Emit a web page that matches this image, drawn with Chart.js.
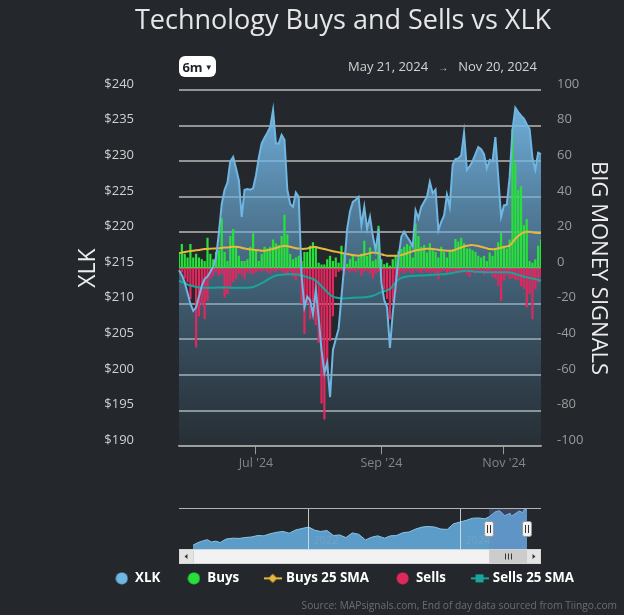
<!DOCTYPE html>
<html><head><meta charset="utf-8">
<script src="https://cdn.jsdelivr.net/npm/chart.js@4.4.1/dist/chart.umd.min.js"></script>
<style>
html,body{margin:0;padding:0;background:#24282c;}
#wrap{position:relative;width:624px;height:615px;overflow:hidden;background:#24282c;font-family:'Open Sans',sans-serif;}
#main{position:absolute;left:0;top:0;}
#nav{position:absolute;left:179px;top:504px;}
#title{position:absolute;left:62px;right:0;top:1px;text-align:center;font-size:27px;color:#e6e6e6;line-height:36px;}
#btn{position:absolute;left:179px;top:56px;width:37px;height:21px;border-radius:6px;background:#fff;color:#1f2226;font-size:13px;font-weight:700;line-height:21px;text-align:center;}
#btn span{font-size:8px;vertical-align:2px;margin-left:2px;}
#range{position:absolute;right:87px;top:57px;font-size:13px;color:#d2d2d2;line-height:18px;white-space:nowrap;}
#range span{font-size:10px;margin:0 10px;}
#source{position:absolute;right:7px;top:598px;font-size:10.2px;color:#6a6e72;white-space:nowrap;}
</style></head><body><div id="wrap">
<canvas id="main" width="624" height="615"></canvas>
<canvas id="nav" width="362" height="63"></canvas>
<div id="title">Technology Buys and Sells vs XLK</div>
<div id="btn">6m<span>&#9660;</span></div>
<div id="range">May 21, 2024<span>&#8594;</span>Nov 20, 2024</div>
<div id="source">Source: MAPsignals.com, End of day data sourced from Tiingo.com</div>
</div>
<script>
// ---------- DATA ----------
const dates = [
'2024-05-21','2024-05-22','2024-05-23','2024-05-24','2024-05-28','2024-05-29','2024-05-30','2024-05-31',
'2024-06-03','2024-06-04','2024-06-05','2024-06-06','2024-06-07','2024-06-10','2024-06-11','2024-06-12','2024-06-13','2024-06-14','2024-06-17','2024-06-18','2024-06-20','2024-06-21','2024-06-24','2024-06-25','2024-06-26','2024-06-27','2024-06-28',
'2024-07-01','2024-07-02','2024-07-03','2024-07-05','2024-07-08','2024-07-09','2024-07-10','2024-07-11','2024-07-12','2024-07-15','2024-07-16','2024-07-17','2024-07-18','2024-07-19','2024-07-22','2024-07-23','2024-07-24','2024-07-25','2024-07-26','2024-07-29','2024-07-30','2024-07-31',
'2024-08-01','2024-08-02','2024-08-05','2024-08-06','2024-08-07','2024-08-08','2024-08-09','2024-08-12','2024-08-13','2024-08-14','2024-08-15','2024-08-16','2024-08-19','2024-08-20','2024-08-21','2024-08-22','2024-08-23','2024-08-26','2024-08-27','2024-08-28','2024-08-29','2024-08-30',
'2024-09-03','2024-09-04','2024-09-05','2024-09-06','2024-09-09','2024-09-10','2024-09-11','2024-09-12','2024-09-13','2024-09-16','2024-09-17','2024-09-18','2024-09-19','2024-09-20','2024-09-23','2024-09-24','2024-09-25','2024-09-26','2024-09-27','2024-09-30',
'2024-10-01','2024-10-02','2024-10-03','2024-10-04','2024-10-07','2024-10-08','2024-10-09','2024-10-10','2024-10-11','2024-10-14','2024-10-15','2024-10-16','2024-10-17','2024-10-18','2024-10-21','2024-10-22','2024-10-23','2024-10-24','2024-10-25','2024-10-28','2024-10-29','2024-10-30','2024-10-31',
'2024-11-01','2024-11-04','2024-11-05','2024-11-06','2024-11-07','2024-11-08','2024-11-11','2024-11-12','2024-11-13','2024-11-14','2024-11-15','2024-11-18','2024-11-19','2024-11-20'];

const xlk = [
214.7,214.0,213.0,211.5,210.0,209.0,209.5,211.0,212.5,213.5,213.8,214.5,215.2,216.5,220.0,224.0,226.0,227.0,230.0,230.6,
229.0,227.3,222.2,226.0,226.1,226.0,226.2,228.0,230.5,232.5,233.3,234.0,234.8,237.2,232.5,232.5,233.7,233.0,226.0,224.0,
223.6,225.6,225.0,214.0,209.5,211.0,210.5,208.5,212.0,208.0,203.5,200.3,201.7,196.9,203.5,205.0,206.5,211.0,215.5,220.5,
223.0,224.3,224.6,225.0,221.0,223.6,220.5,222.2,219.5,217.5,220.5,213.0,210.5,209.5,203.8,208.7,212.5,216.5,219.4,220.1,
219.4,218.8,218.0,223.1,222.0,223.6,224.3,225.0,227.1,225.5,226.0,220.3,221.5,222.4,225.3,223.6,229.5,230.3,230.4,230.8,
234.0,228.8,229.3,230.0,231.0,232.0,231.7,231.0,229.0,230.2,230.0,233.4,227.8,222.2,223.8,223.9,227.8,234.4,237.5,236.9,
236.4,236.0,235.2,234.5,230.5,228.8,231.2,231.0];

const buys = [
8,13.5,8,6,13.5,6,8,6,5,4,17,8,5,9,10,28,9,4,18,22,
12,7,4,4,5,12,19.5,10,4,8,12,11,12,16,14,13,18,30,19,8,
5,6,7,4,9,9,12.5,14.5,12,3,2,2,5,7,4,6,3,12.5,8,2.5,
5,7,4,6,8,15.4,7,11.6,4,5,23.8,5,2.2,3,1.3,5,7,9.5,10.7,12,
13.5,12.5,6,25,18,12,13,8.8,14,10,9,6,12,9,6,10,9.7,16.3,15,17,
14,11,11,10,9,7,6,7,4,8.8,7,11,14.5,20,12.5,11,16,78,59,44,
46,24,27.5,4,3,5,12.5,16];

const buysSma = [
8.4,8.7,9.0,9.3,9.6,9.8,10.0,10.2,10.5,10.7,10.8,10.9,11.0,11.0,11.1,11.3,11.5,11.6,11.8,12.0,
12.0,11.8,11.4,11.0,10.7,10.5,10.3,10.1,10.0,9.8,9.8,10.0,10.4,10.8,11.3,11.8,12.2,12.5,12.3,12.0,
11.6,11.2,11.0,10.8,10.8,11.0,11.4,11.8,11.8,11.4,11.0,10.7,10.3,9.9,9.5,9.2,8.9,8.5,8.2,7.9,
7.6,7.3,7.1,7.0,7.2,7.6,8.0,8.4,8.8,8.6,8.3,7.8,7.3,7.0,6.9,6.9,6.9,7.0,7.3,7.8,
8.4,9.0,9.5,9.9,10.2,10.5,10.7,10.8,10.8,10.7,10.5,10.3,10.1,9.9,9.8,9.7,9.9,10.4,11.0,11.6,
12.1,12.5,12.8,12.9,12.7,12.4,12.0,11.6,11.1,10.7,10.6,10.7,11.0,11.4,11.8,12.2,12.6,14.5,16.5,18.0,
19.2,20.0,20.4,20.4,20.1,19.8,19.7,19.7];

const sells = [
-3,-2.5,-6,-8,-17.4,-10,-44.6,-27,-21,-28.7,-18.4,-6,-4.3,-2.4,-4.3,-3.4,-16.5,-14.6,-11.8,-8,
-6.2,-3,-4,-6.2,-2,-3,-3.5,-2.5,-1.5,-2,-1,-2.5,-3,-1.5,-2.5,-1,-2,-4,-3.5,-2,
-5,-7,-4,-20,-37,-20,-28.7,-19,-32,-42,-76,-85,-58,-41,-27,-5,-2,-1.5,-3.4,-1,
-2.4,-1.5,-2.4,-1,-4.3,-2,-1.5,-3,-6,-3,-2,-8,-12,-17.4,-28.7,-19,-13.7,-5,-2,-3,
-1.5,-2,-3,-1,-2,-3,-1.5,-2,-3,-2,-3,-6.2,-2,-1.5,-3,-2.5,-1.5,-2,-3,-2,
-2.5,-3.5,-5.2,-2,-3,-2,-1.5,-4,-3,-2,-5,-6,-10,-18.4,-7,-4,-6,-5.5,-6.5,-7,
-10,-11.8,-22,-14.6,-28.7,-11.8,-8,-5];

const sellsSma = [
-7.1,-7.8,-8.5,-9.2,-9.8,-10.2,-10.6,-10.9,-11.0,-11.0,-11.0,-11.0,-11.0,-11.0,-10.9,-10.9,-10.9,-10.9,-11.0,-11.0,
-11.0,-11.0,-11.0,-11.0,-11.0,-10.9,-10.6,-10.0,-9.3,-8.5,-7.6,-6.6,-5.6,-4.8,-4.2,-3.9,-3.7,-3.6,-3.5,-3.5,
-3.5,-3.6,-3.8,-4.2,-4.6,-5.1,-5.6,-6.1,-7.0,-8.5,-10.2,-11.8,-13.5,-15.0,-16.0,-16.5,-16.8,-17.0,-17.0,-16.9,
-16.8,-16.7,-16.6,-16.5,-16.5,-16.4,-16.2,-15.9,-15.5,-15.0,-14.2,-13.5,-13.0,-12.4,-11.8,-10.0,-8.0,-6.5,-5.5,-5.0,
-4.7,-4.5,-4.4,-4.3,-4.2,-4.2,-4.1,-4.0,-3.9,-3.8,-3.7,-3.6,-3.5,-3.4,-3.2,-3.0,-2.7,-2.3,-2.0,-1.8,
-1.6,-1.5,-1.6,-1.8,-2.0,-2.1,-2.2,-2.3,-2.4,-2.4,-2.4,-2.4,-2.4,-2.4,-2.4,-2.4,-2.5,-2.8,-3.3,-3.8,
-4.3,-4.8,-5.2,-5.5,-5.8,-6.2,-6.6,-7.1];

const seriesNames = ['XLK','Buys','Buys 25 SMA','Sells','Sells 25 SMA'];
const xTickMonths = ['2024-07','2024-09','2024-11'];
const xTickLabels = ["Jul '24","Sep '24","Nov '24"];
const priceMin = 190, priceMax = 240, priceStep = 5;
const signalMin = -100, signalMax = 100, signalStep = 20;

// navigator (long history of XLK)
const navDates = ['2020-06-24','2020-07-15','2020-08-03','2020-09-01','2020-09-21','2020-10-12','2020-11-02','2020-12-01','2021-01-04','2021-02-01','2021-03-01','2021-04-01','2021-05-03','2021-06-01','2021-07-01','2021-08-02','2021-09-01','2021-10-01','2021-11-01','2021-12-01',
'2022-01-03','2022-02-01','2022-03-01','2022-04-01','2022-05-02','2022-06-01','2022-07-01','2022-08-01','2022-09-01','2022-10-03','2022-11-01','2022-12-01',
'2023-01-03','2023-02-01','2023-03-01','2023-04-03','2023-05-01','2023-06-01','2023-07-03','2023-08-01','2023-09-01','2023-10-02','2023-11-01','2023-12-01',
'2024-01-02','2024-02-01','2024-03-01','2024-04-01','2024-05-01','2024-05-21','2024-06-18','2024-07-10','2024-08-05','2024-08-30','2024-09-06','2024-10-14','2024-10-31','2024-11-08','2024-11-20'];
const navValues = [113,121,126,132,124,127,122,134,137,136,139,141,146,145,152,157,160,154,165,170,
175,164,160,163,146,148,139,155,150,131,140,145,
137,145,146,156,158,168,175,177,175,168,167,186,
192,198,205,206,203,210,226,231,214,222,212,230,224,237,233];
const navYearTicks = [2022, 2024];

// ---------- HELPERS ----------
function decYear(s){const [y,m,d]=s.split('-').map(Number);const t0=Date.UTC(y,0,1),t1=Date.UTC(y+1,0,1);return y+(Date.UTC(y,m-1,d)-t0)/(t1-t0);}
const monthOf = i => dates[i].slice(0,7);

const C_XLK='#6fb6e3', C_BUY='#27e03a', C_BSMA='#e6b93c', C_SELL='#e0285f', C_SSMA='#19a59b';

function circleIcon(color){const c=document.createElement('canvas');c.width=13;c.height=13;const g=c.getContext('2d');g.fillStyle=color;g.beginPath();g.arc(6.5,6.5,6,0,Math.PI*2);g.fill();return c;}
function lineIcon(color,marker){const c=document.createElement('canvas');c.width=18;c.height=12;const g=c.getContext('2d');g.strokeStyle=color;g.lineWidth=2;g.beginPath();g.moveTo(0,6);g.lineTo(18,6);g.stroke();g.fillStyle=color;
 if(marker==='diamond'){g.beginPath();g.moveTo(9,1.5);g.lineTo(13.5,6);g.lineTo(9,10.5);g.lineTo(4.5,6);g.closePath();g.fill();}
 else{g.fillRect(5,2,8,8);}return c;}
const legendIcons=[circleIcon(C_XLK),circleIcon(C_BUY),lineIcon(C_BSMA,'diamond'),circleIcon(C_SELL),lineIcon(C_SSMA,'square')];

Chart.defaults.font.family="'Open Sans', sans-serif";

// ---------- MAIN CHART ----------
new Chart(document.getElementById('main'),{
  type:'line',
  data:{labels:dates,datasets:[
    {type:'line',label:seriesNames[0],data:xlk,yAxisID:'y',borderColor:C_XLK,borderWidth:2,pointRadius:0,tension:0,order:0,fill:'start',
     backgroundColor:(c)=>{const {ctx,chartArea}=c.chart;if(!chartArea)return 'rgba(0,0,0,0)';
       const g=ctx.createLinearGradient(0,chartArea.top,0,chartArea.bottom);
       g.addColorStop(0,'rgba(122,192,240,0.95)');g.addColorStop(0.5,'rgba(100,162,205,0.5)');g.addColorStop(1,'rgba(90,140,175,0.07)');return g;}},
    {type:'bar',label:seriesNames[1],data:buys,yAxisID:'y2',backgroundColor:C_BUY,grouped:false,barPercentage:0.78,categoryPercentage:1,order:3},
    {type:'line',label:seriesNames[2],data:buysSma,yAxisID:'y2',borderColor:C_BSMA,borderWidth:2,pointRadius:0,tension:0.3,fill:false,order:1},
    {type:'bar',label:seriesNames[3],data:sells,yAxisID:'y2',backgroundColor:C_SELL,grouped:false,barPercentage:0.78,categoryPercentage:1,order:3},
    {type:'line',label:seriesNames[4],data:sellsSma,yAxisID:'y2',borderColor:C_SSMA,borderWidth:2,pointRadius:0,tension:0.3,fill:false,order:1}
  ]},
  options:{
    responsive:false,animation:false,events:[],
    layout:{padding:{left:65,right:0,top:90,bottom:20}},
    plugins:{
      title:{display:false},tooltip:{enabled:false},
      filler:{drawTime:'beforeDatasetsDraw'},
      legend:{position:'bottom',
        labels:{usePointStyle:true,padding:27,color:'#ffffff',font:{size:13.3,weight:'bold'},
          generateLabels:(chart)=>chart.data.datasets.map((ds,i)=>({text:ds.label,fillStyle:'rgba(0,0,0,0)',strokeStyle:'rgba(0,0,0,0)',lineWidth:0,pointStyle:legendIcons[i],hidden:false,datasetIndex:i,fontColor:'#ffffff'}))}}
    },
    scales:{
      x:{type:'category',offset:false,
        grid:{display:true,offset:false,drawOnChartArea:false,drawTicks:true,tickLength:8,color:'#9a9a9a',lineWidth:1},
        border:{display:true,color:'#a3a3a3',width:1.5},
        ticks:{autoSkip:false,maxRotation:0,color:'#858585',font:{size:12.5},padding:2,
          callback:(v)=>xTickLabels[xTickMonths.indexOf(monthOf(v))]},
        afterBuildTicks:(s)=>{s.ticks=dates.map((d,i)=>({value:i})).filter(t=>t.value>0&&monthOf(t.value)!==monthOf(t.value-1)&&xTickMonths.includes(monthOf(t.value)));},
        afterFit:(s)=>{s.height=98.5;}},
      y:{position:'left',min:priceMin,max:priceMax,
        ticks:{stepSize:priceStep,callback:(v)=>'$'+v,color:'#d0d0d0',font:{size:13},padding:45,labelOffset:-6},
        grid:{color:'rgba(180,180,180,0.78)',lineWidth:2,drawTicks:false},
        border:{display:false},
        title:{display:true,text:'XLK',color:'#ececec',font:{size:23},padding:{top:9.2,bottom:0}},
        afterFit:(s)=>{s.width=114;}},
      y2:{position:'right',min:signalMin,max:signalMax,
        ticks:{stepSize:signalStep,color:'#9b9b9b',font:{size:13},padding:16,labelOffset:-6},
        grid:{display:false,drawTicks:false},
        border:{display:false},
        title:{display:true,text:'BIG MONEY SIGNALS',color:'#ececec',font:{size:22},padding:{top:12.8,bottom:0}},
        afterFit:(s)=>{s.width=83;}}
    }
  }
});

// ---------- NAVIGATOR ----------
const rangeStart=decYear(dates[0]), rangeEnd=decYear(dates[dates.length-1]);
const navDecor={id:'navDecor',afterDraw(chart){
  const {ctx,chartArea:a,scales:{x}}=chart;const W=chart.width;
  ctx.save();
  ctx.strokeStyle='rgba(225,225,225,0.85)';ctx.lineWidth=1;
  ctx.font="11px 'Open Sans'";ctx.textBaseline='middle';ctx.fillStyle='rgba(150,170,190,0.45)';
  navYearTicks.forEach(yr=>{const px=Math.round(x.getPixelForValue(yr))+0.5;ctx.beginPath();ctx.moveTo(px,a.top);ctx.lineTo(px,a.bottom);ctx.stroke();ctx.fillText(String(yr),px+5,a.bottom-8);});
  const x0=x.getPixelForValue(rangeStart),x1=x.getPixelForValue(rangeEnd);
  ctx.fillStyle='rgba(102,133,194,0.3)';ctx.fillRect(x0,a.top,x1-x0,a.bottom-a.top);
  ctx.strokeStyle='#b3b3b3';ctx.beginPath();ctx.moveTo(0,a.top+0.5);ctx.lineTo(W,a.top+0.5);ctx.stroke();
  // scrollbar
  const sy=a.bottom,sh=15;
  ctx.fillStyle='#f2f2f2';ctx.fillRect(0,sy,W,sh);
  ctx.strokeStyle='#d6d6d6';ctx.strokeRect(0.5,sy+0.5,W-1,sh-1);
  ctx.fillStyle='#e3e3e3';ctx.fillRect(0.5,sy+0.5,14,sh-1);ctx.fillRect(W-14.5,sy+0.5,14,sh-1);
  ctx.strokeRect(0.5,sy+0.5,14,sh-1);ctx.strokeRect(W-14.5,sy+0.5,14,sh-1);
  ctx.fillStyle='#333';
  ctx.beginPath();ctx.moveTo(5.5,sy+7.5);ctx.lineTo(8.5,sy+5);ctx.lineTo(8.5,sy+10);ctx.closePath();ctx.fill();
  ctx.beginPath();ctx.moveTo(W-5.5,sy+7.5);ctx.lineTo(W-8.5,sy+5);ctx.lineTo(W-8.5,sy+10);ctx.closePath();ctx.fill();
  ctx.fillStyle='#cccccc';ctx.fillRect(x0,sy+0.5,x1-x0,sh-1);
  ctx.strokeStyle='#333';ctx.lineWidth=1;const cx=Math.round((x0+x1)/2)+0.5;
  [-3,0,3].forEach(d=>{ctx.beginPath();ctx.moveTo(cx+d,sy+4.5);ctx.lineTo(cx+d,sy+10.5);ctx.stroke();});
  // handles
  [x0,x1].forEach(hx=>{const hx0=Math.round(hx)-4.5;ctx.fillStyle='#f2f2f2';ctx.strokeStyle='#999';
    ctx.beginPath();ctx.roundRect(hx0,a.top+13.5,9,15,2);ctx.fill();ctx.stroke();
    ctx.strokeStyle='#333';[2.5,5.5].forEach(d=>{ctx.beginPath();ctx.moveTo(hx0+d+0.5,a.top+17);ctx.lineTo(hx0+d+0.5,a.top+25);ctx.stroke();});});
  ctx.restore();
}};
new Chart(document.getElementById('nav'),{
  type:'line',
  data:{datasets:[{data:navDates.map((d,i)=>({x:decYear(d),y:navValues[i]})),borderColor:'#88c4ea',borderWidth:1,backgroundColor:'rgba(100,172,222,0.88)',fill:'start',pointRadius:0,tension:0}]},
  options:{responsive:false,animation:false,events:[],
    layout:{padding:{left:14,right:14,top:4,bottom:18}},
    plugins:{legend:{display:false},tooltip:{enabled:false}},
    scales:{x:{type:'linear',display:false,min:decYear(navDates[0]),max:decYear(navDates[navDates.length-1])},
            y:{display:false,min:100,max:240}}},
  plugins:[navDecor]
});
</script>
</body></html>
